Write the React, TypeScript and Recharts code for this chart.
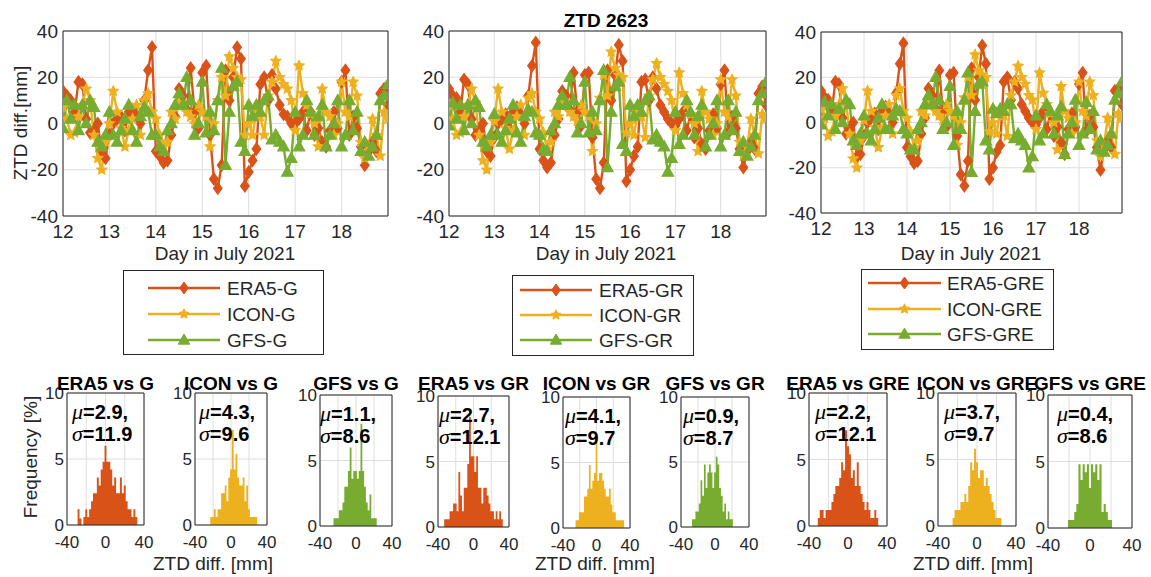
import React from 'react';
import {
  LineChart,
  Line,
  AreaChart,
  Area,
  XAxis,
  YAxis,
  CartesianGrid,
  ReferenceArea,
} from 'recharts';

// ---------- colours & fonts ----------
const C_ERA5 = '#D95319';
const C_ICON = '#EDB120';
const C_GFS = '#77AC30';
const AXIS = '#262626';
const GRID = '#dedede';
const FONT = '"Liberation Sans", Arial, Helvetica, sans-serif';
const SERIF = '"Liberation Serif", "Times New Roman", serif';

// ---------- time series (2-hourly samples, 12 July 00h .. 19 July 00h) ----------
const DAY_START = 12;
const SAMPLE_STEP = 1 / 12;
const dayTicks = [12, 13, 14, 15, 16, 17, 18];
const ztdTicks = [-40, -20, 0, 20, 40];

const era5G = [
  14, 12, 10, 5, 18, 17, 2, -4, -3, 0, -13, -15,
  -5, 0, 2, 3, -3, 5, 6, 3, 0, 10, 23, 33,
  -12, -14, -17, -16, -5, 3, 15, 12, 6, 24, 5, -2,
  22, 25, -5, -24, -28, -18, 23, 10, 20, 33, 28, -27,
  -21, -16, -11, 17, 20, 10, 21, 15, 8, 4, 3, 0,
  0, 2, 5, -3, 5, -5, -2, -8, -10, -3, 5, -2,
  18, 23, -5, 3, -2, -10, -18, -12, -8, -12, 13, 15,
  8,
];
const iconG = [
  7, 2, -5, -4, 3, 8, 15, 10, -5, -15, -20, -8,
  0, 14, 5, -2, -10, -3, 2, 8, -5, 10, 13, 5,
  2, -5, -10, -8, 5, 2, 9, 8, 5, 3, 0, 8,
  5, 3, -10, 0, 10, 20, 12, 29, 24, 20, 19, -5,
  0, -5, 5, 3, -5, 12, 18, 27, 20, 17, 15, 10,
  -3, 25, 13, 8, 4, 0, -10, 15, 5, 3, -5, 0,
  18, 5, 3, 18, 12, -8, -15, -10, 2, -5, -14, 5,
  2,
];
const gfsG = [
  -2, 10, 2, 8, -3, 8, 0, 10, 7, -8, -10, -5,
  5, -5, -8, -3, 2, 8, -3, -8, 3, 7, 5, -5,
  -5, -10, -12, -3, 0, 8, 13, 8, 20, 10, -5, 0,
  18, -4, 5, -3, 10, 24, -18, 5, 16, 18, -8, -12,
  8, 3, 8, 5, 10, 12, -7, -5, -8, -10, -21, -15,
  5, -10, -5, 10, 5, -5, 3, 8, -10, -5, 0, 10,
  -10, -5, 10, -3, 5, -12, -8, -14, -10, -5, 10, 12,
  17,
];

const era5GR = [
  15, 12, 11, 5, 19, 17, 2, -5, -3, 0, -12, -14,
  -6, 0, 2, 4, -2, 5, 7, 4, 0, 12, 25, 35,
  -11, -16, -19, -17, -5, 2, 14, 12, 6, 22, 5, -1,
  21, 22, -6, -24, -28, -17, 23, 10, 21, 34, 27, -25,
  -20, -14, -10, 18, 19, 10, 20, 15, 8, 5, 2, 0,
  -1, 2, 5, -3, 4, -6, -2, -9, -11, -3, 4, -2,
  17, 23, -4, 3, -2, -11, -19, -12, -8, -11, 13, 16,
  8,
];
const iconGR = [
  8, 2, -5, -4, 3, 8, 15, 9, -5, -16, -20, -8,
  1, 15, 5, -2, -11, -3, 3, 8, -5, 11, 13, 5,
  2, -4, -11, -8, 5, 3, 10, 8, 5, 3, 1, 8,
  5, 3, -12, 0, 11, 21, 12, 31, 24, 21, 20, -4,
  0, -5, 5, 3, -6, 12, 19, 26, 20, 17, 14, 10,
  -3, 22, 13, 8, 4, 0, -12, 14, 5, 2, -5, 0,
  19, 5, 3, 19, 12, -8, -14, -10, 2, -5, -13, 4,
  2,
];
const gfsGR = [
  -1, 9, 2, 8, -3, 8, 0, 10, 7, -8, -10, -5,
  4, -5, -8, -3, 2, 8, -4, -8, 3, 6, 5, -4,
  -5, -11, -12, -3, 0, 8, 12, 8, 20, 10, -4, 0,
  18, -4, 5, -3, 10, 23, -19, 5, 16, 18, -9, -12,
  8, 3, 8, 5, 10, 12, -7, -5, -8, -10, -21, -15,
  5, -9, -5, 10, 5, -5, 3, 8, -10, -5, 0, 10,
  -10, -5, 10, -3, 5, -12, -8, -14, -10, -5, 10, 13,
  18,
];

const era5GRE = [
  14, 11, 10, 5, 18, 17, 2, -5, -3, 0, -15, -14,
  -6, 0, 2, 4, -3, 5, 7, 4, 0, 13, 26, 35,
  -11, -15, -18, -17, -5, 2, 15, 12, 6, 23, 5, -2,
  21, 22, -6, -23, -28, -17, 24, 10, 20, 34, 26, -25,
  -20, -13, -10, 18, 20, 10, 18, 15, 8, 5, 2, 0,
  -1, 2, 5, -3, 4, -6, -2, -9, -14, -3, 4, -2,
  17, 22, -4, 3, -2, -11, -21, -12, -8, -11, 14, 15,
  8,
];
const iconGRE = [
  6, 2, -6, -4, 3, 8, 15, 9, -5, -16, -20, -8,
  1, 14, 5, -2, -11, -3, 3, 8, -5, 12, 15, 5,
  2, -4, -11, -8, 5, 3, 9, 8, 5, 3, 1, 8,
  5, 3, -10, 0, 11, 20, 12, 30, 23, 21, 20, -4,
  0, -5, 5, 3, -6, 12, 18, 25, 20, 17, 12, 10,
  -3, 22, 13, 8, 4, 0, -12, 16, 5, 2, -5, 0,
  18, 5, 3, 18, 12, -8, -15, -10, 2, -5, -14, 4,
  2,
];
const gfsGRE = [
  -1, 9, 3, 8, -3, 6, 0, 10, 8, -8, -10, -5,
  3, -5, -8, -3, 2, 8, -3, -3, 3, 6, 5, -3,
  -5, -12, -12, -3, 0, 8, 12, 8, 20, 10, -3, 0,
  16, -10, 5, -3, 10, 22, -22, 5, 17, 18, -8, -12,
  6, 4, 6, 5, 8, 8, -7, -5, -8, -10, -20, -15,
  3, -8, -5, 8, 5, -5, 3, 7, -14, -5, 0, 10,
  -10, -5, 9, -3, 5, -12, -8, -13, -10, -5, 10, 13,
  18,
];

const seriesNamesG = ['ERA5-G', 'ICON-G', 'GFS-G'];
const seriesNamesGR = ['ERA5-GR', 'ICON-GR', 'GFS-GR'];
const seriesNamesGRE = ['ERA5-GRE', 'ICON-GRE', 'GFS-GRE'];

// ---------- histograms (frequency in %, 2 mm bins, first bin centre given) ----------
const BIN = 2;
const histXTicks = [-40, -20, 0, 20, 40];
const histYTicks = [0, 5, 10];

const era5GStart = -28;
const era5GFreq = [1.2, 0.5, 0, 0.6, 1.2, 0.6, 1.2, 1.8, 2.4, 2.4, 3.6, 3.0, 4.2, 4.8, 6.0, 4.8, 4.8, 4.2, 3.0, 3.6, 2.4, 2.4, 3.6, 2.4, 3.0, 1.8, 1.2, 1.2, 0.6, 1.2, 0.6];
const iconGStart = -22;
const iconGFreq = [0.6, 0.6, 1.2, 0.6, 1.2, 1.2, 2.4, 2.4, 3.0, 1.8, 3.6, 4.2, 7.2, 4.2, 5.4, 3.6, 3.0, 3.0, 3.6, 1.8, 3.0, 1.2, 0.6, 0.6, 0.6, 0.6];
const gfsGStart = -24;
const gfsGFreq = [0.6, 0.6, 0.6, 1.2, 1.2, 1.8, 3.0, 3.0, 4.2, 6.0, 3.6, 4.2, 4.2, 3.6, 4.2, 7.8, 4.2, 3.0, 1.8, 1.2, 2.4, 0.6, 0.6, 0.6];
const era5GRStart = -32;
const era5GRFreq = [0.6, 0.6, 0.6, 1.2, 1.2, 1.8, 1.8, 1.2, 4.2, 2.4, 1.2, 3.0, 3.0, 4.8, 8.4, 5.4, 5.4, 4.2, 5.4, 3.0, 3.0, 1.8, 3.0, 3.0, 2.4, 1.8, 1.2, 1.2, 0.6, 1.2, 0.6, 1.2, 0.6];
const iconGRStart = -24;
const iconGRFreq = [0.6, 0.6, 1.2, 1.2, 1.2, 2.4, 2.4, 3.0, 4.8, 3.0, 3.6, 4.2, 6.6, 3.6, 4.2, 4.2, 3.6, 3.0, 2.4, 2.4, 3.0, 1.8, 1.2, 1.2, 0.6, 0.6, 0.6, 0.6, 0.6];
const gfsGRStart = -26;
const gfsGRFreq = [0.6, 0.6, 1.2, 1.2, 1.8, 3.6, 2.4, 4.8, 3.0, 4.2, 4.8, 4.2, 3.0, 4.2, 5.4, 4.8, 3.0, 2.4, 1.2, 1.8, 0.6, 1.2, 0.6, 0.6];
const era5GREStart = -30;
const era5GREFreq = [0.6, 1.2, 1.2, 0.6, 1.2, 1.2, 1.2, 1.8, 2.4, 3.0, 3.0, 3.6, 4.8, 4.2, 7.2, 6.0, 5.4, 3.6, 4.2, 3.0, 4.8, 3.0, 2.4, 1.8, 1.2, 1.8, 1.2, 0.6, 0.6, 1.2, 0.6];
const iconGREStart = -24;
const iconGREFreq = [0.6, 1.2, 1.2, 1.2, 1.8, 1.8, 2.4, 1.8, 3.0, 4.8, 4.2, 5.8, 4.8, 3.6, 4.2, 4.2, 3.0, 3.6, 3.0, 2.4, 1.8, 1.2, 0.6, 0.6, 0.6];
const gfsGREStart = -20;
const gfsGREFreq = [0.6, 0.6, 0.6, 1.2, 1.8, 4.8, 3.6, 4.8, 4.2, 4.8, 3.0, 4.8, 4.2, 4.8, 3.6, 4.8, 1.2, 1.8, 1.2, 0.6, 0.6];

const histTitles = ['ERA5 vs G', 'ICON vs G', 'GFS vs G', 'ERA5 vs GR', 'ICON vs GR', 'GFS vs GR', 'ERA5 vs GRE', 'ICON vs GRE', 'GFS vs GRE'];
const histMean = ['2.9', '4.3', '1.1', '2.7', '4.1', '0.9', '2.2', '3.7', '0.4'];
const histStd = ['11.9', '9.6', '8.6', '12.1', '9.7', '8.7', '12.1', '9.7', '8.6'];

// ---------- layout (plot rectangles in page pixels) ----------
type Rect = { x: number; y: number; w: number; h: number };
const timeRects: Rect[] = [
  { x: 63, y: 31, w: 325, h: 185 },
  { x: 449, y: 31, w: 317, h: 185 },
  { x: 821, y: 32, w: 301, h: 181 },
];
const histRects: Rect[] = [
  { x: 67, y: 393, w: 77, h: 132 },
  { x: 195, y: 393, w: 72, h: 132 },
  { x: 320, y: 395, w: 72, h: 131 },
  { x: 438, y: 396, w: 71, h: 131 },
  { x: 563, y: 397, w: 67, h: 131 },
  { x: 681, y: 397, w: 68, h: 130 },
  { x: 809, y: 393, w: 78, h: 133 },
  { x: 938, y: 393, w: 78, h: 133 },
  { x: 1048, y: 395, w: 84, h: 133 },
];
const statOffsets = [5, 4, 0, 1, 2, 2, 6, 6, 9];
const legendBoxes = [
  { x: 123, y: 270, w: 200, h: 84, lineL: 25, lineR: 97, textX: 104, rows: [288, 314, 340] },
  { x: 512, y: 275, w: 181, h: 80, lineL: 8, lineR: 80, textX: 87, rows: [290, 315, 340] },
  { x: 861, y: 269, w: 192, h: 80, lineL: 7, lineR: 80, textX: 86, rows: [283, 309, 334] },
];

// ---------- markers ----------
function diamondPath(cx: number, cy: number, r: number) {
  return `M${cx},${cy - r}L${cx + r * 0.72},${cy}L${cx},${cy + r}L${cx - r * 0.72},${cy}Z`;
}
function trianglePath(cx: number, cy: number, r: number) {
  return `M${cx},${cy - r}L${cx + r * 0.95},${cy + r * 0.7}L${cx - r * 0.95},${cy + r * 0.7}Z`;
}
function starPath(cx: number, cy: number, R: number, r: number) {
  let d = '';
  for (let k = 0; k < 10; k++) {
    const a = -Math.PI / 2 + (k * Math.PI) / 5;
    const rad = k % 2 === 0 ? R : r;
    d += (k === 0 ? 'M' : 'L') + (cx + rad * Math.cos(a)).toFixed(2) + ',' + (cy + rad * Math.sin(a)).toFixed(2);
  }
  return d + 'Z';
}
type MarkerKind = 'diamond' | 'star' | 'triangle';
function markerD(kind: MarkerKind, cx: number, cy: number) {
  if (kind === 'diamond') return diamondPath(cx, cy, 6);
  if (kind === 'triangle') return trianglePath(cx, cy, 6);
  return starPath(cx, cy, 5.2, 2.5);
}

const markerShape = (kind: MarkerKind, color: string) => (p: any) => {
  const { cx, cy, index } = p;
  if (cx == null || cy == null) return <g key={`m-${kind}-${index}`} />;
  return <path key={`m-${kind}-${index}`} d={markerD(kind, cx, cy)} fill={color} stroke={color} strokeWidth={1.2} />;
};

function buildSeries(era5: number[], icon: number[], gfs: number[]) {
  return era5.map((v, i) => ({ t: DAY_START + i * SAMPLE_STEP, era5: v, icon: icon[i], gfs: gfs[i] }));
}

// histogram bins -> step outline: one point per left bin edge, closed at the last right edge
function buildBins(start: number, freq: number[]) {
  const rows = freq.map((f, i) => ({ x: start - BIN / 2 + i * BIN, f }));
  rows.push({ x: start - BIN / 2 + freq.length * BIN, f: 0 });
  return rows;
}

// ---------- time-series panel ----------
function TimePanel({ rect, data }: { rect: Rect; data: any[] }) {
  const padL = 56;
  const padT = 14;
  const padR = 14;
  const padB = 32;
  const tickStyle = { fontSize: 19, fill: AXIS, fontFamily: FONT };
  return (
    <div style={{ position: 'absolute', left: rect.x - padL, top: rect.y - padT }}>
      <LineChart
        width={rect.w + padL + padR}
        height={rect.h + padT + padB}
        data={data}
        margin={{ top: padT, right: padR, bottom: 0, left: 0 }}
      >
        <CartesianGrid stroke={GRID} strokeWidth={1} />
        <XAxis
          dataKey="t"
          type="number"
          domain={[12, 19]}
          ticks={dayTicks}
          interval={0}
          allowDataOverflow
          height={padB}
          axisLine={false}
          tickLine={false}
          tickSize={0}
          tickMargin={9}
          tick={tickStyle}
        />
        <YAxis
          type="number"
          domain={[-40, 40]}
          ticks={ztdTicks}
          interval={0}
          allowDataOverflow
          width={padL}
          axisLine={false}
          tickLine={false}
          tickSize={0}
          tickMargin={5}
          tick={tickStyle}
        />
        <Line
          dataKey="era5"
          stroke={C_ERA5}
          strokeWidth={2.4}
          dot={markerShape('diamond', C_ERA5)}
          activeDot={false}
          isAnimationActive={false}
        />
        <Line
          dataKey="icon"
          stroke={C_ICON}
          strokeWidth={2.4}
          dot={markerShape('star', C_ICON)}
          activeDot={false}
          isAnimationActive={false}
        />
        <Line
          dataKey="gfs"
          stroke={C_GFS}
          strokeWidth={2.4}
          dot={markerShape('triangle', C_GFS)}
          activeDot={false}
          isAnimationActive={false}
        />
        <ReferenceArea x1={12} x2={19} y1={-40} y2={40} fill="none" stroke={AXIS} strokeWidth={1} ifOverflow="visible" />
      </LineChart>
    </div>
  );
}

// ---------- histogram panel ----------
function HistPanel({ rect, start, freq, color }: { rect: Rect; start: number; freq: number[]; color: string }) {
  const padL = 36;
  const padT = 14;
  const padR = 18;
  const padB = 30;
  const data = buildBins(start, freq);
  const tickStyle = { fontSize: 17, fill: AXIS, fontFamily: FONT };
  return (
    <div style={{ position: 'absolute', left: rect.x - padL, top: rect.y - padT }}>
      <AreaChart
        width={rect.w + padL + padR}
        height={rect.h + padT + padB}
        data={data}
        margin={{ top: padT, right: padR, bottom: 0, left: 0 }}
      >
        <CartesianGrid stroke={GRID} strokeWidth={1} />
        <XAxis
          dataKey="x"
          type="number"
          domain={[-40, 40]}
          ticks={histXTicks}
          interval={0}
          allowDataOverflow
          height={padB}
          axisLine={false}
          tickLine={false}
          tickSize={0}
          tickMargin={11}
          tick={tickStyle}
          tickFormatter={(v: number) => (v === -20 || v === 20 ? '' : String(v))}
        />
        <YAxis
          type="number"
          domain={[0, 10]}
          ticks={histYTicks}
          interval={0}
          allowDataOverflow
          width={padL}
          axisLine={false}
          tickLine={false}
          tickSize={0}
          tickMargin={3}
          tick={tickStyle}
        />
        <Area
          type="stepAfter"
          dataKey="f"
          baseValue={0}
          stroke="none"
          fill={color}
          fillOpacity={1}
          dot={false}
          activeDot={false}
          isAnimationActive={false}
        />
        <ReferenceArea x1={-40} x2={40} y1={0} y2={10} fill="none" stroke={AXIS} strokeWidth={1} ifOverflow="visible" />
      </AreaChart>
    </div>
  );
}

// ---------- legend ----------
function LegendBox({ box, names }: { box: (typeof legendBoxes)[number]; names: string[] }) {
  const colors = [C_ERA5, C_ICON, C_GFS];
  const kinds: MarkerKind[] = ['diamond', 'star', 'triangle'];
  const mx = box.x + (box.lineL + box.lineR) / 2;
  return (
    <g>
      <rect x={box.x + 0.5} y={box.y + 0.5} width={box.w} height={box.h} fill="#fff" stroke={AXIS} strokeWidth={1} />
      {names.map((n, i) => {
        const y = box.rows[i];
        return (
          <g key={n}>
            <line x1={box.x + box.lineL} x2={box.x + box.lineR} y1={y} y2={y} stroke={colors[i]} strokeWidth={2.4} />
            <path d={markerD(kinds[i], mx, y)} fill={colors[i]} stroke={colors[i]} strokeWidth={1} />
            <text x={box.x + box.textX} y={y + 7} fontSize={19} fill={AXIS} fontFamily={FONT}>
              {n}
            </text>
          </g>
        );
      })}
    </g>
  );
}

export default function App() {
  const timeData = [buildSeries(era5G, iconG, gfsG), buildSeries(era5GR, iconGR, gfsGR), buildSeries(era5GRE, iconGRE, gfsGRE)];
  const hists = [
    { start: era5GStart, freq: era5GFreq, color: C_ERA5 },
    { start: iconGStart, freq: iconGFreq, color: C_ICON },
    { start: gfsGStart, freq: gfsGFreq, color: C_GFS },
    { start: era5GRStart, freq: era5GRFreq, color: C_ERA5 },
    { start: iconGRStart, freq: iconGRFreq, color: C_ICON },
    { start: gfsGRStart, freq: gfsGRFreq, color: C_GFS },
    { start: era5GREStart, freq: era5GREFreq, color: C_ERA5 },
    { start: iconGREStart, freq: iconGREFreq, color: C_ICON },
    { start: gfsGREStart, freq: gfsGREFreq, color: C_GFS },
  ];
  const legendNames = [seriesNamesG, seriesNamesGR, seriesNamesGRE];
  const xLabelCenters = [225, 606, 971];
  const histGroupLabelX = [213, 595, 973];

  return (
    <div style={{ position: 'absolute', left: 0, top: 0, width: 1151, height: 577, background: '#fff', fontFamily: FONT, overflow: 'hidden' }}>
      {timeRects.map((r, i) => (
        <TimePanel key={`tp${i}`} rect={r} data={timeData[i]} />
      ))}
      {histRects.map((r, i) => (
        <HistPanel key={`hp${i}`} rect={r} start={hists[i].start} freq={hists[i].freq} color={hists[i].color} />
      ))}
      <svg width={1151} height={577} style={{ position: 'absolute', left: 0, top: 0, pointerEvents: 'none' }}>
        <text x={606} y={27} textAnchor="middle" fontSize={19} fontWeight="bold" fill="#000" fontFamily={FONT}>
          ZTD 2623
        </text>
        <text
          x={20}
          y={123}
          transform="rotate(-90 20 123)"
          textAnchor="middle"
          dominantBaseline="central"
          fontSize={19}
          fill={AXIS}
          fontFamily={FONT}
        >
          ZTD diff.[mm]
        </text>
        {xLabelCenters.map((x, i) => (
          <text key={`xl${i}`} x={x} y={260} textAnchor="middle" fontSize={19} fill={AXIS} fontFamily={FONT}>
            Day in July 2021
          </text>
        ))}
        {legendBoxes.map((b, i) => (
          <LegendBox key={`lg${i}`} box={b} names={legendNames[i]} />
        ))}
        <text
          x={30}
          y={457}
          transform="rotate(-90 30 457)"
          textAnchor="middle"
          dominantBaseline="central"
          fontSize={19}
          fill={AXIS}
          fontFamily={FONT}
        >
          Frequency [%]
        </text>
        {histGroupLabelX.map((x, i) => (
          <text key={`hl${i}`} x={x} y={570} textAnchor="middle" fontSize={19} fill={AXIS} fontFamily={FONT}>
            ZTD diff. [mm]
          </text>
        ))}
        {histRects.map((r, i) => (
          <g key={`ht${i}`}>
            <text x={r.x + r.w / 2} y={390} textAnchor="middle" fontSize={19} fontWeight="bold" fill="#000" fontFamily={FONT}>
              {histTitles[i]}
            </text>
            <text x={r.x + statOffsets[i]} y={r.y + 26} fontSize={20} fontWeight="bold" fill="#000" fontFamily={FONT}>
              <tspan fontFamily={SERIF} fontStyle="italic" fontWeight="normal" fontSize={22}>
                μ
              </tspan>
              {`=${histMean[i]},`}
            </text>
            <text x={r.x + statOffsets[i]} y={r.y + 48} fontSize={20} fontWeight="bold" fill="#000" fontFamily={FONT}>
              <tspan fontFamily={SERIF} fontStyle="italic" fontWeight="normal" fontSize={22}>
                σ
              </tspan>
              {`=${histStd[i]}`}
            </text>
          </g>
        ))}
      </svg>
    </div>
  );
}
